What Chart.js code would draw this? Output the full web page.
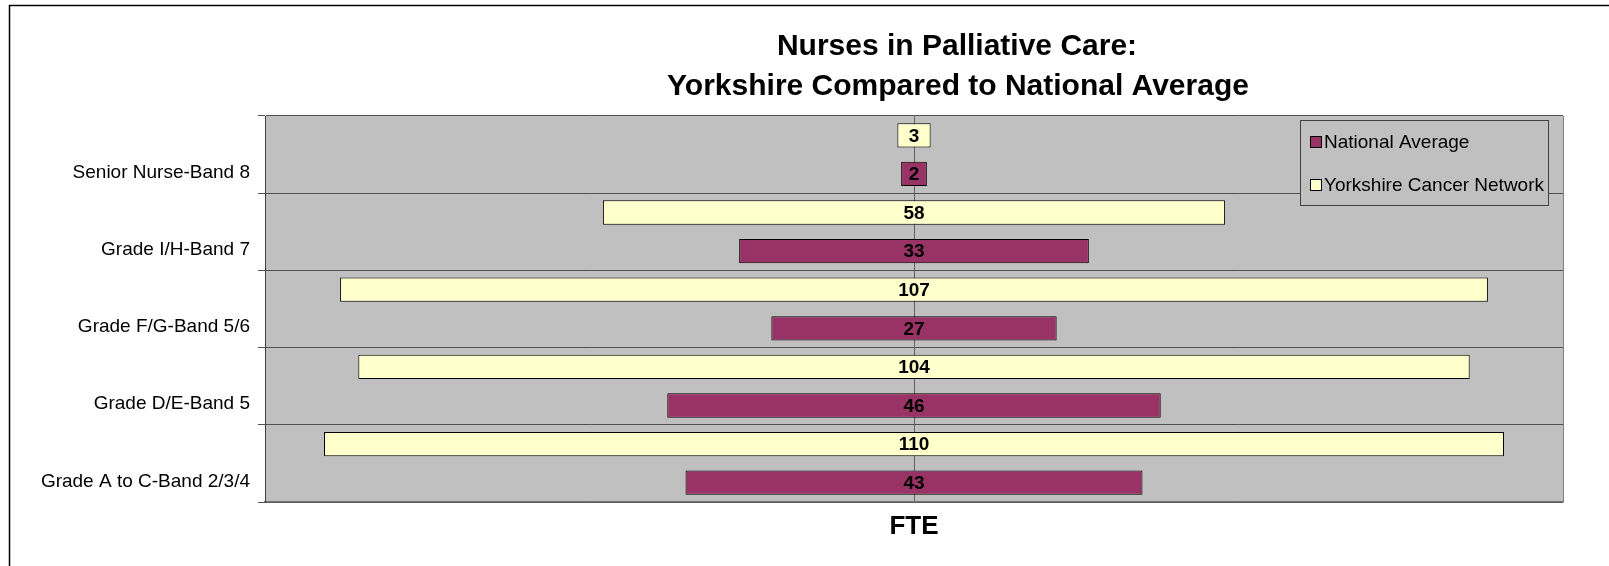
<!DOCTYPE html>
<html>
<head>
<meta charset="utf-8">
<script src="https://cdn.jsdelivr.net/npm/chart.js@4.4.0/dist/chart.umd.min.js"></script>
<style>
    html, body { margin: 0; padding: 0; background: #fff; }
    canvas { display: block; }
</style>
</head>
<body>
<canvas id="myBarChart" width="1609" height="566"></canvas>
<script>
//data
const categories = [
    'Senior Nurse-Band 8',
    'Grade I/H-Band 7',
    'Grade F/G-Band 5/6',
    'Grade D/E-Band 5',
    'Grade A to C-Band 2/3/4'
]
const yorkshireValues = [3.1, 58, 107, 103.6, 110]
const nationalValues = [2.4, 32.6, 26.6, 46, 42.6]
const seriesNames = ['National Average', 'Yorkshire Cancer Network']
const titleLines = ['Nurses in Palliative Care:', 'Yorkshire Compared to National Average']
const axisTitle = 'FTE'

//config color
const nationalColor = '#993366'
const yorkshireColor = '#FFFFCC'
const plotGrey = '#C0C0C0'
const fontFamily = '"Liberation Sans", Arial, sans-serif'

// bars are centred on zero, so each one runs from -v/2 to v/2
function centred(values){
    return values.map(v => [-v / 2, v / 2])
}

//background, outer frame, plot area fill
const backgroundPlugin = {
    id: 'background',
    beforeDraw(chart){
        const ctx = chart.ctx
        const a = chart.chartArea
        ctx.save()
        ctx.fillStyle = '#fff'
        ctx.fillRect(0, 0, chart.width, chart.height)
        ctx.fillStyle = plotGrey
        ctx.fillRect(a.left, a.top, a.right - a.left, a.bottom - a.top)
        ctx.strokeStyle = '#000'
        ctx.lineWidth = 1.5
        ctx.beginPath()
        ctx.moveTo(9.5, chart.height)
        ctx.lineTo(9.5, 5.5)
        ctx.lineTo(chart.width, 5.5)
        ctx.stroke()
        ctx.restore()
    }
}

//value labels in the middle of every bar
const valueLabelPlugin = {
    id: 'valueLabels',
    afterDatasetsDraw(chart){
        const ctx = chart.ctx
        ctx.save()
        ctx.font = 'bold 19px ' + fontFamily
        ctx.fillStyle = '#000'
        ctx.textAlign = 'center'
        ctx.textBaseline = 'middle'
        chart.data.datasets.forEach((ds, i) => {
            const meta = chart.getDatasetMeta(i)
            meta.data.forEach((bar, j) => {
                const v = ds.raw[j]
                ctx.fillText(Math.round(v), (bar.x + bar.base) / 2, bar.y + 1)
            })
        })
        ctx.restore()
    }
}

//title, axis title and legend box
const decorPlugin = {
    id: 'decor',
    afterDraw(chart){
        const ctx = chart.ctx
        ctx.save()
        ctx.fillStyle = '#000'
        ctx.textAlign = 'center'
        ctx.textBaseline = 'middle'
        ctx.font = 'bold 30px ' + fontFamily
        ctx.fillText(titleLines[0], 957, 47)
        ctx.fillText(titleLines[1], 958, 87)

        ctx.font = 'bold 26px ' + fontFamily
        ctx.fillText(axisTitle, chart.scales.x.getPixelForValue(0), 527)

        // legend
        ctx.fillStyle = plotGrey
        ctx.fillRect(1300, 120, 248, 85)
        ctx.strokeStyle = '#404040'
        ctx.lineWidth = 1
        ctx.strokeRect(1300.5, 120.5, 248, 85)
        const items = [
            {text: seriesNames[0], color: nationalColor, y: 142},
            {text: seriesNames[1], color: yorkshireColor, y: 185}
        ]
        ctx.textAlign = 'left'
        ctx.font = '19px ' + fontFamily
        items.forEach(it => {
            ctx.fillStyle = it.color
            ctx.fillRect(1310, it.y - 6, 11, 11)
            ctx.strokeStyle = '#000'
            ctx.strokeRect(1310.5, it.y - 5.5, 11, 11)
            ctx.fillStyle = '#000'
            ctx.fillText(it.text, 1324, it.y + 1)
        })
        ctx.restore()
    }
}

Chart.defaults.font.family = fontFamily

const ctxBar = document.getElementById('myBarChart').getContext('2d')
const myBarChart = new Chart(ctxBar, {
    type: 'bar',
    data: {
        labels: categories,
        datasets: [{
            label: seriesNames[1],
            data: centred(yorkshireValues),
            raw: yorkshireValues,
            backgroundColor: yorkshireColor,
            borderColor: '#000',
            borderWidth: 1,
            borderSkipped: false
        }, {
            label: seriesNames[0],
            data: centred(nationalValues),
            raw: nationalValues,
            backgroundColor: nationalColor,
            borderColor: '#000',
            borderWidth: 1,
            borderSkipped: false
        }]
    },
    options: {
        indexAxis: 'y',
        responsive: false,
        animation: false,
        devicePixelRatio: 1,
        categoryPercentage: 1.0,
        barPercentage: 0.63,
        layout: {
            padding: {top: 116, right: 46, bottom: 64, left: 0}
        },
        plugins: {
            legend: {display: false},
            tooltip: {enabled: false},
            title: {display: false}
        },
        scales: {
            x: {
                type: 'linear',
                min: -60.5,
                max: 60.5,
                afterBuildTicks: s => { s.ticks = [-60.5, 0, 60.5].map(v => ({value: v})) },
                ticks: {display: false},
                grid: {
                    drawTicks: false,
                    color: c => (c.tick && c.tick.value === 0) ? '#606060' : '#808080',
                    lineWidth: 1
                },
                border: {display: true, color: '#707070', width: 1.5}
            },
            y: {
                type: 'category',
                afterFit: s => { s.width = 265 },
                ticks: {
                    color: '#000',
                    font: {size: 19},
                    padding: 8,
                    labelOffset: 18
                },
                grid: {
                    offset: true,
                    color: '#505050',
                    lineWidth: 1,
                    tickLength: 7
                },
                border: {display: true, color: '#404040', width: 1}
            }
        }
    },
    plugins: [backgroundPlugin, valueLabelPlugin, decorPlugin]
})
</script>
</body>
</html>
